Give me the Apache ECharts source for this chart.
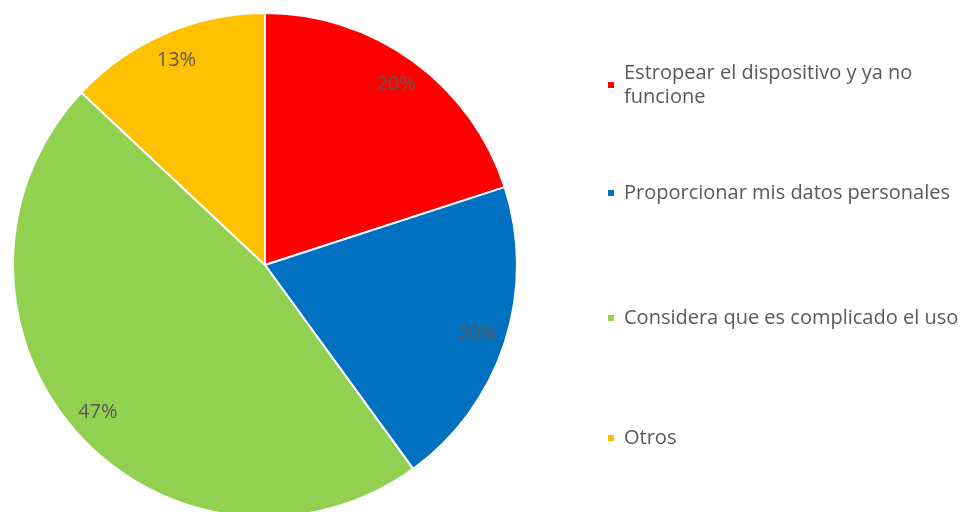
<!DOCTYPE html>
<html>
<head>
<meta charset="utf-8">
<script src="https://cdn.jsdelivr.net/npm/echarts@6/dist/echarts.min.js"></script>
<style>
  html, body { margin: 0; padding: 0; background: #ffffff; }
  #chart { width: 977px; height: 512px; }
</style>
</head>
<body>
<div id="chart"></div>
<script>
// Motivos de preocupación (porcentaje de respuestas)
const categories = [
  'Estropear el dispositivo y ya no funcione',
  'Proporcionar mis datos personales',
  'Considera que es complicado el uso',
  'Otros'
];
const values = [20, 20, 47, 13];
const colors = ['#FF0000', '#0070C0', '#92D050', '#FFC000'];

const FONT = '"Open Sans", "Noto Sans", sans-serif';
const data = categories.map((name, i) => ({ name, value: values[i], itemStyle: { color: colors[i] } }));

// one legend block per item so each can sit at its own height
const legendTops = [49, 181, 306, 426];
const legends = categories.map((name, i) => ({
  data: [name],
  left: 606,
  top: legendTops[i],
  padding: 0,
  orient: 'vertical',
  itemWidth: 8,
  itemHeight: 8,
  icon: 'rect',
  selectedMode: false,
  formatter: n => n === categories[0] ? 'Estropear el dispositivo y ya no\nfuncione' : n,
  textStyle: {
    fontFamily: FONT,
    fontSize: 20,
    color: '#595959',
    lineHeight: 24,
    padding: i === 0 ? [24, 0, 0, 4] : [0, 0, 0, 4]
  }
}));

const chart = echarts.init(document.getElementById('chart'), null, { renderer: 'canvas' });
chart.setOption({
  backgroundColor: '#ffffff',
  animation: false,
  legend: legends,
  series: [
    {
      type: 'pie',
      center: [265, 265],
      radius: [0, 252],
      startAngle: 90,
      clockwise: true,
      data: data,
      itemStyle: { borderColor: '#ffffff', borderWidth: 2 },
      label: { show: false },
      labelLine: { show: false },
      silent: true
    },
    {
      // ring used only to place the percentage labels near the rim
      type: 'pie',
      center: [265, 265],
      radius: [188, 252],
      startAngle: 90,
      clockwise: true,
      data: data.map(d => ({ name: d.name, value: d.value })),
      itemStyle: { color: 'rgba(0,0,0,0)', borderWidth: 0 },
      label: {
        show: true,
        position: 'inside',
        formatter: '{c}%',
        fontFamily: FONT,
        fontSize: 20,
        color: '#595959'
      },
      labelLine: { show: false },
      legendHoverLink: false,
      silent: true
    }
  ]
});
</script>
</body>
</html>
